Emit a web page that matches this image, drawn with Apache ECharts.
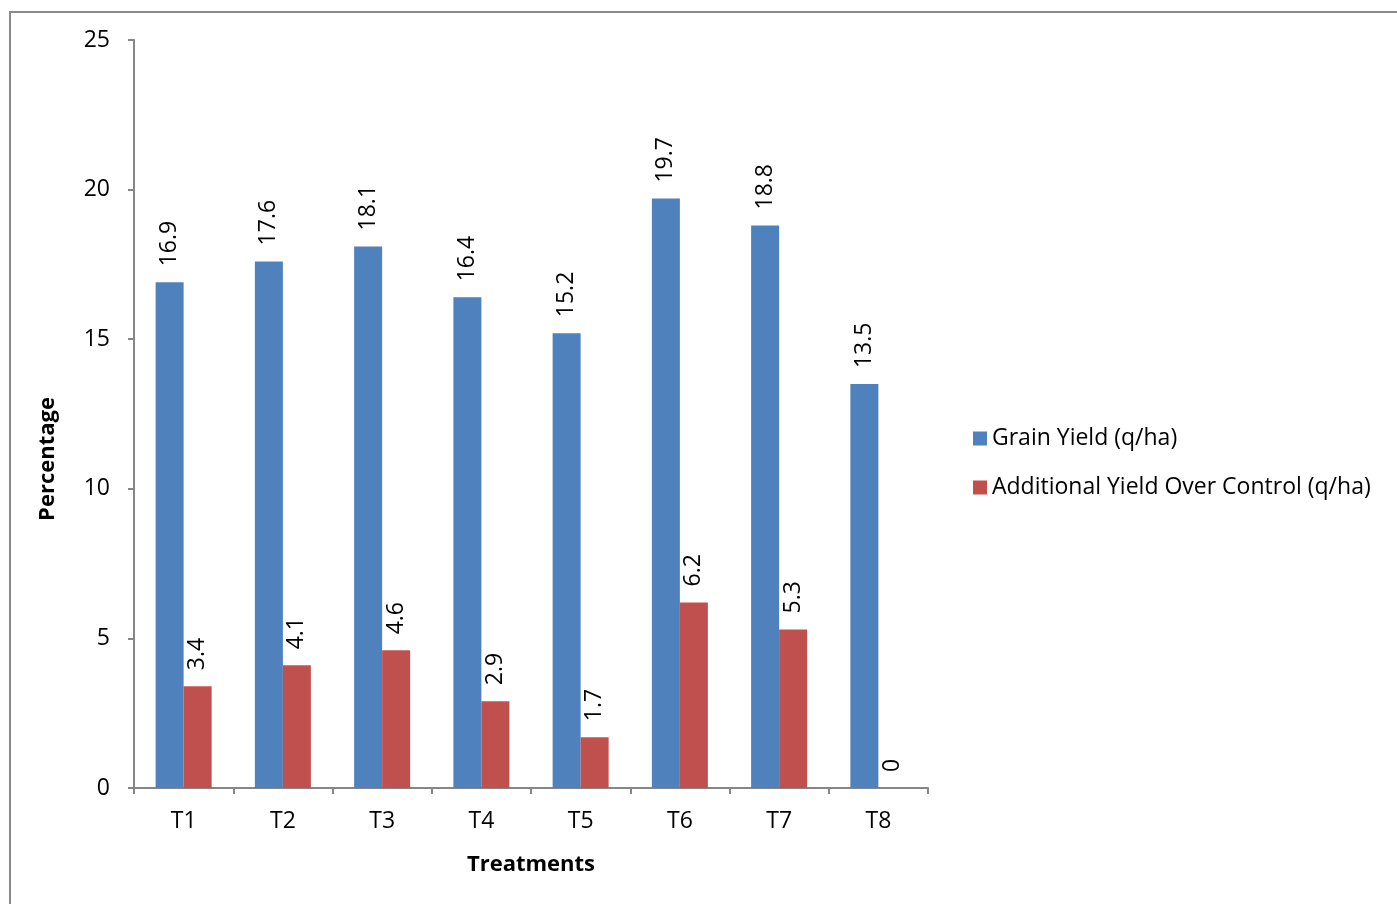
<!DOCTYPE html>
<html><head><meta charset="utf-8">
<script src="https://cdn.jsdelivr.net/npm/echarts@6/dist/echarts.min.js"></script>
<style>html,body{margin:0;padding:0;background:#fff}#c{width:1397px;height:904px}</style>
</head><body><div id="c"></div>
<script>
const categories = ['T1','T2','T3','T4','T5','T6','T7','T8'];
const grainYield = [16.9, 17.6, 18.1, 16.4, 15.2, 19.7, 18.8, 13.5];
const additionalYield = [3.4, 4.1, 4.6, 2.9, 1.7, 6.2, 5.3, 0];
const yTicks = {min: 0, max: 25, interval: 5};
const FONT = 'Open Sans';
const chart = echarts.init(document.getElementById('c'), null, {renderer: 'canvas'});
const lbl = {
  show: true, position: 'top', rotate: 90, align: 'left', verticalAlign: 'middle',
  distance: 16, fontFamily: FONT, fontSize: 23, color: '#000'
};
chart.setOption({
  animation: false,
  textStyle: {fontFamily: FONT},
  graphic: [{
    type: 'rect', shape: {x: 10, y: 12, width: 1500, height: 1000},
    style: {fill: 'none', stroke: '#8a8a8a', lineWidth: 2}, silent: true
  }, {
    type: 'text', x: 48, y: 459, rotation: Math.PI / 2,
    style: {text: 'Percentage', fontFamily: FONT, fontSize: 22, fontWeight: 'bold', fill: '#000',
            align: 'center', verticalAlign: 'middle'}
  }],
  grid: {left: 134, right: 469, top: 40, bottom: 116},
  legend: {
    orient: 'vertical', left: 968, top: 422, itemGap: 26,
    itemWidth: 14, itemHeight: 14, icon: 'rect',
    textStyle: {fontFamily: FONT, fontSize: 23, color: '#000', padding: [0,0,0,0]},
    data: ['Grain Yield (q/ha)', 'Additional Yield Over Control (q/ha)']
  },
  xAxis: {
    type: 'category', data: categories,
    name: 'Treatments', nameLocation: 'middle', nameGap: 66,
    nameTextStyle: {fontFamily: FONT, fontSize: 22, fontWeight: 'bold', color: '#000'},
    axisLine: {lineStyle: {color: '#868686', width: 2}},
    axisTick: {show: true, length: 6, alignWithLabel: false, lineStyle: {color: '#868686', width: 2}},
    axisLabel: {fontFamily: FONT, fontSize: 23, color: '#000', margin: 22}
  },
  yAxis: {
    type: 'value', min: yTicks.min, max: yTicks.max, interval: yTicks.interval,
    axisLine: {show: true, lineStyle: {color: '#868686', width: 2}},
    axisTick: {show: true, length: 6, lineStyle: {color: '#868686', width: 2}},
    splitLine: {show: false},
    axisLabel: {fontFamily: FONT, fontSize: 23, color: '#000', margin: 24}
  },
  series: [
    {name: 'Grain Yield (q/ha)', type: 'bar', data: grainYield, barWidth: 28, barGap: '0%',
     itemStyle: {color: '#4F81BD'}, label: lbl},
    {name: 'Additional Yield Over Control (q/ha)', type: 'bar', data: additionalYield, barWidth: 28,
     itemStyle: {color: '#C0504D'}, label: lbl}
  ]
});
</script></body></html>
